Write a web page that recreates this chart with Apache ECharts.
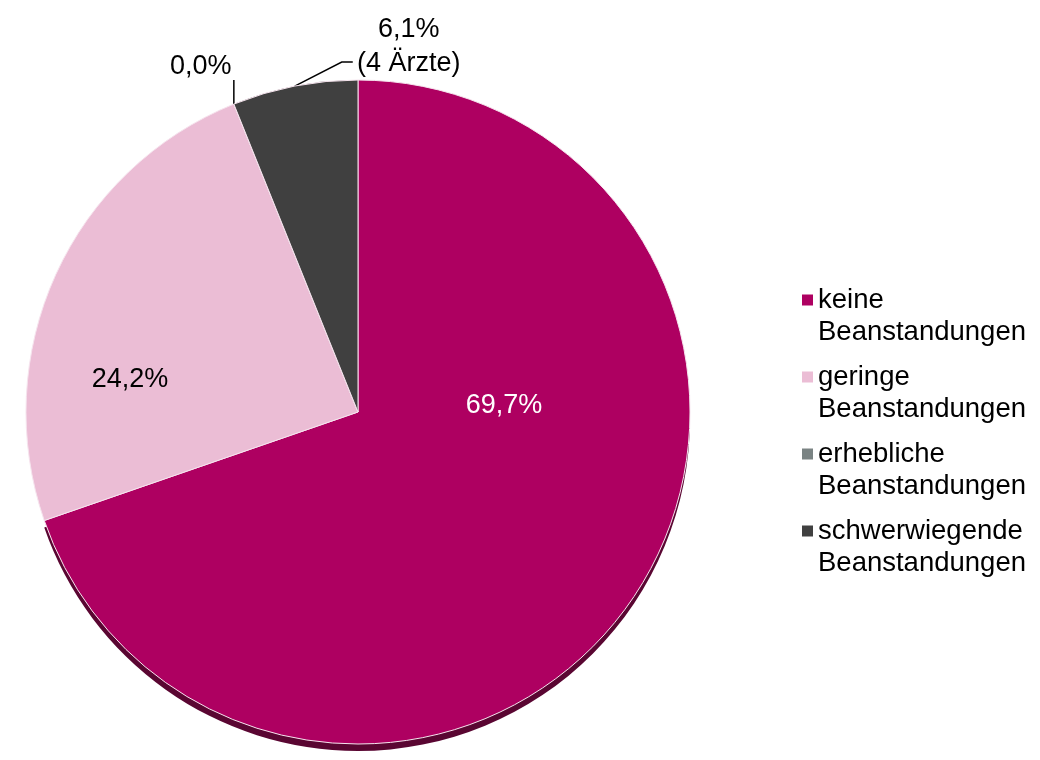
<!DOCTYPE html>
<html>
<head>
<meta charset="utf-8">
<script src="https://cdn.jsdelivr.net/npm/echarts@6/dist/echarts.min.js"></script>
<style>
  html, body { margin: 0; padding: 0; background: #ffffff; }
  #chart { width: 1040px; height: 760px; }
</style>
</head>
<body>
<div id="chart"></div>
<script>
// Prüfergebnisse: Anteile der Ärzte je Beanstandungsstufe (in %)
const categories = [
  'keine\nBeanstandungen',
  'geringe\nBeanstandungen',
  'erhebliche\nBeanstandungen',
  'schwerwiegende\nBeanstandungen'
];
const shares = [69.7, 24.2, 0.0, 6.1];
const notes = ['', '', '', '(4 Ärzte)'];
const colors = ['#AE0061', '#EBBDD5', '#7A8383', '#404040'];
const edgeColors = ['#5A0632', 'transparent', 'transparent', 'transparent'];
const labelColors = ['#ffffff', '#000000', '#000000', '#000000'];

const FONT = "'Liberation Sans', Arial, sans-serif";
const CX = 358, CY = 412, R = 332, DEPTH = 7;

function fmt(v) {
  return v.toFixed(1).replace('.', ',') + '%';
}

const faceData = categories.map(function (name, i) {
  const inside = i < 2;
  return {
    name: name,
    value: shares[i],
    itemStyle: { color: colors[i] },
    label: {
      position: inside ? 'inside' : 'outside',
      color: labelColors[i]
    },
    labelLine: { show: !inside }
  };
});

// Kante des Kuchens: gleiche Anteile, leicht nach unten versetzt, dahinter gezeichnet
const edgeData = categories.map(function (name, i) {
  return { name: name, value: shares[i], itemStyle: { color: edgeColors[i] } };
});

const chart = echarts.init(document.getElementById('chart'), null, { renderer: 'canvas' });

chart.setOption({
  animation: false,
  backgroundColor: '#ffffff',
  legend: {
    orient: 'vertical',
    left: 802,
    top: 252,
    padding: 0,
    itemWidth: 11,
    itemHeight: 11,
    itemGap: -19,
    icon: 'rect',
    selectedMode: false,
    itemStyle: { borderWidth: 0 },
    data: categories,
    // leere erste Zeile, damit das Symbol auf Höhe der ersten Textzeile steht
    formatter: function (name) { return '\n' + name; },
    textStyle: {
      fontFamily: FONT,
      fontSize: 27.5,
      lineHeight: 32,
      color: '#000000'
    }
  },
  series: [{
    type: 'pie',
    z: 3,
    center: [CX, CY],
    radius: R,
    startAngle: 90,
    clockwise: true,
    avoidLabelOverlap: false,
    emphasis: { disabled: true },
    itemStyle: { borderColor: '#f6e4ee', borderWidth: 1 },
    label: {
      show: true,
      fontFamily: FONT,
      fontSize: 27,
      lineHeight: 34,
      formatter: function (p) {
        const n = notes[p.dataIndex];
        return fmt(p.value) + (n ? '\n' + n : '');
      }
    },
    labelLine: {
      show: false,
      lineStyle: { color: '#000000', width: 1.5 }
    },
    labelLayout: function (p) {
      const i = p.dataIndex;
      if (i === 0) {
        return { x: CX + 146, y: CY - 6, align: 'center', verticalAlign: 'middle' };
      }
      if (i === 1) {
        return { x: CX - 228, y: CY - 32, align: 'center', verticalAlign: 'middle' };
      }
      const a = p.labelLinePoints ? p.labelLinePoints[0] : [p.rect.x, p.rect.y];
      if (i === 2) {
        return {
          x: a[0] - 33, y: a[1] - 38, align: 'center', verticalAlign: 'middle',
          labelLinePoints: [a, [a[0], a[1] - 12], [a[0], a[1] - 24]]
        };
      }
      return {
        x: a[0] + 114, y: a[1] - 40, align: 'center', verticalAlign: 'middle',
        labelLinePoints: [a, [a[0] + 47, a[1] - 24], [a[0] + 58, a[1] - 24]]
      };
    },
    data: faceData
  }, {
    type: 'pie',
    z: 1,
    silent: true,
    center: [CX, CY + DEPTH],
    radius: R,
    startAngle: 90,
    clockwise: true,
    emphasis: { disabled: true },
    label: { show: false },
    labelLine: { show: false },
    itemStyle: { borderWidth: 0 },
    data: edgeData
  }]
});
</script>
</body>
</html>
